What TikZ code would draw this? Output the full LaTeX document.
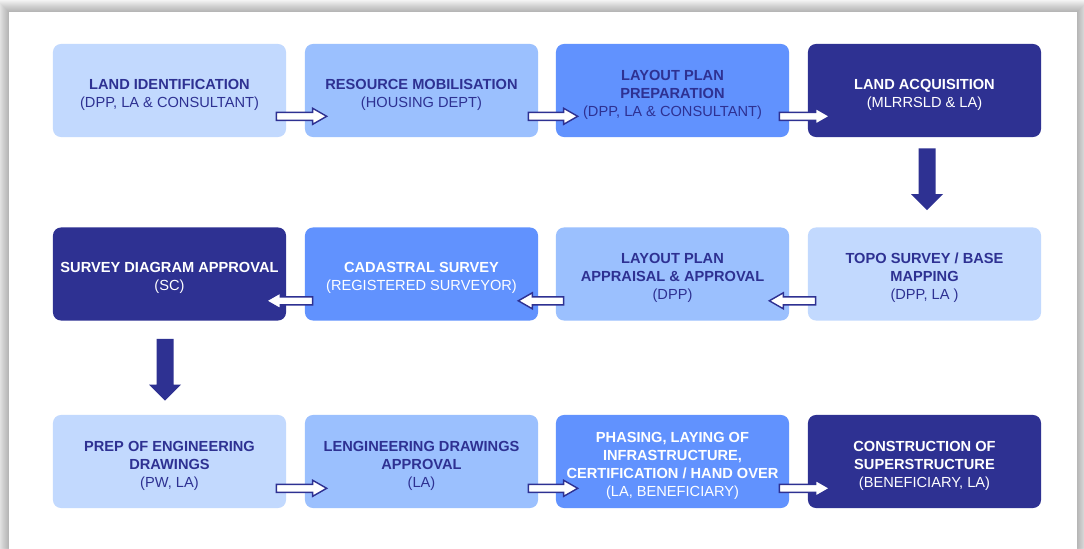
\documentclass[tikz,border=0pt]{standalone}
\usepackage{fontspec}
\setmainfont{Liberation Sans}
\usetikzlibrary{calc}

\definecolor{paleblue}{HTML}{C2D9FE}
\definecolor{midblue}{HTML}{9BC0FE}
\definecolor{brightblue}{HTML}{6192FE}
\definecolor{navy}{HTML}{2E3192}

\tikzset{
  stage/.style={rounded corners=0.2cm, minimum width=5.825cm, minimum height=2.325cm,
    align=center, inner sep=0pt, font=\fontsize{10.4}{12.8}\selectfont},
  stagetext/.style={fill=none, minimum width=0pt, minimum height=0pt},
  pale/.style={stage, fill=paleblue, text=navy},
  mid/.style={stage, fill=midblue, text=navy},
  bright/.style={stage, fill=brightblue, text=white},
  dark/.style={stage, fill=navy, text=white},
  flowarrow/.style={draw=navy, fill=white, line width=1pt, line join=miter},
  droparrow/.style={fill=navy},
}

% box, then its text set a little below the middle
\newcommand{\stage}[4]{\node[#1] (#2) at (#3) {};
  \node[#1, stagetext] (#2-txt) at ($(#2)+(0,4)$) {#4};}
% block arrow, #3 = 1 points right, -1 points left
\newcommand{\flow}[3]{\draw[flowarrow] ($(#1)+(0,-4)$) -- ($(#2)+({-14*#3},-4)$) -- ($(#2)+({-14*#3},-8)$) -- (#2)
  -- ($(#2)+({-14*#3},8)$) -- ($(#2)+({-14*#3},4)$) -- ($(#1)+(0,4)$) -- cycle;}
\newcommand{\drop}[2]{\fill[droparrow] ($(#1)+(-8.5,0)$) -- ($(#2)+(-8.5,-16)$) -- ($(#2)+(-16,-16)$) -- (#2)
  -- ($(#2)+(16,-16)$) -- ($(#2)+(8.5,-16)$) -- ($(#1)+(8.5,0)$) -- cycle;}

\begin{document}
\begin{tikzpicture}[x=0.025cm, y=-0.025cm]
\useasboundingbox (0,0) rectangle (1084,548);
% panel with soft shadow
\fill[white] (0,0) rectangle (1084,548);
\foreach \d in {1,...,13}
  \fill[black, opacity=0.024] (9-\d,12-\d) rectangle (1077+\d,560);
\fill[white] (9,12) rectangle (1077,560);

% first row
\stage{pale}{ident}{169.5,90.5}{\textbf{LAND IDENTIFICATION}\\(DPP, LA \& CONSULTANT)}
\stage{mid}{mobil}{421.5,90.5}{\textbf{RESOURCE MOBILISATION}\\(HOUSING DEPT)}
\stage{bright, text=navy}{layout}{672.5,90.5}{\textbf{LAYOUT PLAN}\\\textbf{PREPARATION}\\(DPP, LA \& CONSULTANT)}
\stage{dark}{acquis}{924.5,90.5}{\textbf{LAND ACQUISITION}\\(MLRRSLD \& LA)}

% second row
\stage{dark}{survdiag}{169.5,274}{\textbf{SURVEY DIAGRAM APPROVAL}\\(SC)}
\stage{bright}{cadastral}{421.5,274}{\textbf{CADASTRAL SURVEY}\\(REGISTERED SURVEYOR)}
\stage{mid}{appraisal}{672.5,274}{\textbf{LAYOUT PLAN}\\\textbf{APPRAISAL \& APPROVAL}\\(DPP)}
\stage{pale}{topo}{924.5,274}{\textbf{TOPO SURVEY / BASE}\\\textbf{MAPPING}\\(DPP, LA )}

% third row
\stage{pale}{engprep}{169.5,461.5}{\textbf{PREP OF ENGINEERING}\\\textbf{DRAWINGS}\\(PW, LA)}
\stage{mid}{engappr}{421.5,461.5}{\textbf{LENGINEERING DRAWINGS}\\\textbf{APPROVAL}\\(LA)}
\stage{bright}{phasing}{672.5,461.5}{\textbf{PHASING, LAYING OF}\\\textbf{INFRASTRUCTURE,}\\\textbf{CERTIFICATION / HAND OVER}\\(LA, BENEFICIARY)}
\stage{dark}{construct}{924.5,461.5}{\textbf{CONSTRUCTION OF}\\\textbf{SUPERSTRUCTURE}\\(BENEFICIARY, LA)}

% arrow ends
\coordinate (a1) at ($(ident.south east)+(-10,-21)$);
\coordinate (b1) at ($(mobil.south west)+(22,-21)$);
\coordinate (a2) at ($(mobil.south east)+(-10,-21)$);
\coordinate (b2) at ($(layout.south west)+(22,-21)$);
\coordinate (a3) at ($(layout.south east)+(-10,-21)$);
\coordinate (b3) at ($(acquis.south west)+(22,-21)$);
\coordinate (c1) at ($(acquis.south)+(2.5,11)$);
\coordinate (d1) at ($(topo.north)+(2.5,-17)$);
\coordinate (a4) at ($(topo.south west)+(8,-20)$);
\coordinate (b4) at ($(appraisal.south east)+(-20,-20)$);
\coordinate (a5) at ($(appraisal.south west)+(8,-20)$);
\coordinate (b5) at ($(cadastral.south east)+(-20,-20)$);
\coordinate (a6) at ($(cadastral.south west)+(8,-20)$);
\coordinate (b6) at ($(survdiag.south east)+(-20,-20)$);
\coordinate (c2) at ($(survdiag.south)+(-4.5,18)$);
\coordinate (d2) at ($(engprep.north)+(-4.5,-14)$);
\coordinate (a7) at ($(engprep.south east)+(-10,-20)$);
\coordinate (b7) at ($(engappr.south west)+(22,-20)$);
\coordinate (a8) at ($(engappr.south east)+(-10,-20)$);
\coordinate (b8) at ($(phasing.south west)+(22,-20)$);
\coordinate (a9) at ($(phasing.south east)+(-10,-20)$);
\coordinate (b9) at ($(construct.south west)+(22,-20)$);

\flow{a1}{b1}{1}
\flow{a2}{b2}{1}
\flow{a3}{b3}{1}
\drop{c1}{d1}
\flow{a4}{b4}{-1}
\flow{a5}{b5}{-1}
\flow{a6}{b6}{-1}
\drop{c2}{d2}
\flow{a7}{b7}{1}
\flow{a8}{b8}{1}
\flow{a9}{b9}{1}
\end{tikzpicture}
\end{document}
